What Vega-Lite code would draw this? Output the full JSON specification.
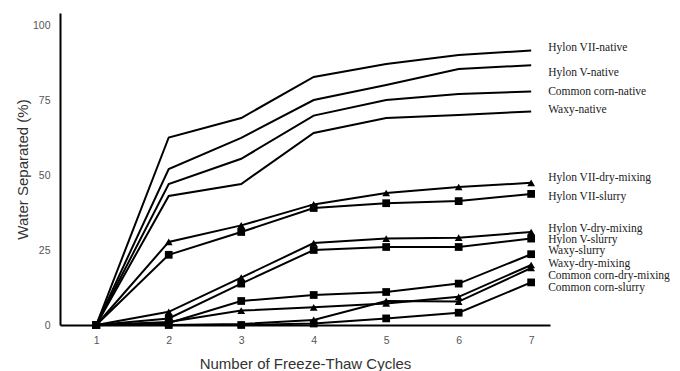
{
  "$schema": "https://vega.github.io/schema/vega-lite/v6.json",
  "width": 490,
  "height": 312,
  "autosize": "none",
  "padding": {"left": 60, "top": 13, "right": 130, "bottom": 46},
  "background": "white",
  "config": {"view": {"stroke": null}, "font": "Liberation Sans"},
  "datasets": {
    "series": [
      {"series": "Hylon VII-native", "method": "native", "cycle": 1, "value": 0},
      {"series": "Hylon VII-native", "method": "native", "cycle": 2, "value": 62.5},
      {"series": "Hylon VII-native", "method": "native", "cycle": 3, "value": 69},
      {"series": "Hylon VII-native", "method": "native", "cycle": 4, "value": 82.7},
      {"series": "Hylon VII-native", "method": "native", "cycle": 5, "value": 87},
      {"series": "Hylon VII-native", "method": "native", "cycle": 6, "value": 90},
      {"series": "Hylon VII-native", "method": "native", "cycle": 7, "value": 91.5},
      {"series": "Hylon V-native", "method": "native", "cycle": 1, "value": 0},
      {"series": "Hylon V-native", "method": "native", "cycle": 2, "value": 52},
      {"series": "Hylon V-native", "method": "native", "cycle": 3, "value": 62.4},
      {"series": "Hylon V-native", "method": "native", "cycle": 4, "value": 75},
      {"series": "Hylon V-native", "method": "native", "cycle": 5, "value": 80},
      {"series": "Hylon V-native", "method": "native", "cycle": 6, "value": 85.3},
      {"series": "Hylon V-native", "method": "native", "cycle": 7, "value": 86.6},
      {"series": "Common corn-native", "method": "native", "cycle": 1, "value": 0},
      {"series": "Common corn-native", "method": "native", "cycle": 2, "value": 47},
      {"series": "Common corn-native", "method": "native", "cycle": 3, "value": 55.4},
      {"series": "Common corn-native", "method": "native", "cycle": 4, "value": 69.8},
      {"series": "Common corn-native", "method": "native", "cycle": 5, "value": 75},
      {"series": "Common corn-native", "method": "native", "cycle": 6, "value": 77},
      {"series": "Common corn-native", "method": "native", "cycle": 7, "value": 77.8},
      {"series": "Waxy-native", "method": "native", "cycle": 1, "value": 0},
      {"series": "Waxy-native", "method": "native", "cycle": 2, "value": 43},
      {"series": "Waxy-native", "method": "native", "cycle": 3, "value": 47},
      {"series": "Waxy-native", "method": "native", "cycle": 4, "value": 64},
      {"series": "Waxy-native", "method": "native", "cycle": 5, "value": 69},
      {"series": "Waxy-native", "method": "native", "cycle": 6, "value": 70},
      {"series": "Waxy-native", "method": "native", "cycle": 7, "value": 71.2},
      {"series": "Hylon VII-dry-mixing", "method": "dry-mixing", "cycle": 1, "value": 0},
      {"series": "Hylon VII-dry-mixing", "method": "dry-mixing", "cycle": 2, "value": 27.7},
      {"series": "Hylon VII-dry-mixing", "method": "dry-mixing", "cycle": 3, "value": 33.2},
      {"series": "Hylon VII-dry-mixing", "method": "dry-mixing", "cycle": 4, "value": 40.2},
      {"series": "Hylon VII-dry-mixing", "method": "dry-mixing", "cycle": 5, "value": 44},
      {"series": "Hylon VII-dry-mixing", "method": "dry-mixing", "cycle": 6, "value": 46},
      {"series": "Hylon VII-dry-mixing", "method": "dry-mixing", "cycle": 7, "value": 47.4},
      {"series": "Hylon VII-slurry", "method": "slurry", "cycle": 1, "value": 0},
      {"series": "Hylon VII-slurry", "method": "slurry", "cycle": 2, "value": 23.4},
      {"series": "Hylon VII-slurry", "method": "slurry", "cycle": 3, "value": 31},
      {"series": "Hylon VII-slurry", "method": "slurry", "cycle": 4, "value": 39},
      {"series": "Hylon VII-slurry", "method": "slurry", "cycle": 5, "value": 40.6},
      {"series": "Hylon VII-slurry", "method": "slurry", "cycle": 6, "value": 41.3},
      {"series": "Hylon VII-slurry", "method": "slurry", "cycle": 7, "value": 43.7},
      {"series": "Hylon V-dry-mixing", "method": "dry-mixing", "cycle": 1, "value": 0},
      {"series": "Hylon V-dry-mixing", "method": "dry-mixing", "cycle": 2, "value": 4.4},
      {"series": "Hylon V-dry-mixing", "method": "dry-mixing", "cycle": 3, "value": 15.8},
      {"series": "Hylon V-dry-mixing", "method": "dry-mixing", "cycle": 4, "value": 27.3},
      {"series": "Hylon V-dry-mixing", "method": "dry-mixing", "cycle": 5, "value": 28.8},
      {"series": "Hylon V-dry-mixing", "method": "dry-mixing", "cycle": 6, "value": 29.1},
      {"series": "Hylon V-dry-mixing", "method": "dry-mixing", "cycle": 7, "value": 31},
      {"series": "Hylon V-slurry", "method": "slurry", "cycle": 1, "value": 0},
      {"series": "Hylon V-slurry", "method": "slurry", "cycle": 2, "value": 2.2},
      {"series": "Hylon V-slurry", "method": "slurry", "cycle": 3, "value": 13.8},
      {"series": "Hylon V-slurry", "method": "slurry", "cycle": 4, "value": 25},
      {"series": "Hylon V-slurry", "method": "slurry", "cycle": 5, "value": 26},
      {"series": "Hylon V-slurry", "method": "slurry", "cycle": 6, "value": 26},
      {"series": "Hylon V-slurry", "method": "slurry", "cycle": 7, "value": 28.8},
      {"series": "Waxy-slurry", "method": "slurry", "cycle": 1, "value": 0},
      {"series": "Waxy-slurry", "method": "slurry", "cycle": 2, "value": 0.7},
      {"series": "Waxy-slurry", "method": "slurry", "cycle": 3, "value": 8},
      {"series": "Waxy-slurry", "method": "slurry", "cycle": 4, "value": 10},
      {"series": "Waxy-slurry", "method": "slurry", "cycle": 5, "value": 11},
      {"series": "Waxy-slurry", "method": "slurry", "cycle": 6, "value": 13.8},
      {"series": "Waxy-slurry", "method": "slurry", "cycle": 7, "value": 23.6},
      {"series": "Waxy-dry-mixing", "method": "dry-mixing", "cycle": 1, "value": 0},
      {"series": "Waxy-dry-mixing", "method": "dry-mixing", "cycle": 2, "value": 1},
      {"series": "Waxy-dry-mixing", "method": "dry-mixing", "cycle": 3, "value": 4.8},
      {"series": "Waxy-dry-mixing", "method": "dry-mixing", "cycle": 4, "value": 5.9},
      {"series": "Waxy-dry-mixing", "method": "dry-mixing", "cycle": 5, "value": 7.2},
      {"series": "Waxy-dry-mixing", "method": "dry-mixing", "cycle": 6, "value": 9.4},
      {"series": "Waxy-dry-mixing", "method": "dry-mixing", "cycle": 7, "value": 20},
      {"series": "Common corn-dry-mixing", "method": "dry-mixing", "cycle": 1, "value": 0},
      {"series": "Common corn-dry-mixing", "method": "dry-mixing", "cycle": 2, "value": 0},
      {"series": "Common corn-dry-mixing", "method": "dry-mixing", "cycle": 3, "value": 0.3},
      {"series": "Common corn-dry-mixing", "method": "dry-mixing", "cycle": 4, "value": 1.7},
      {"series": "Common corn-dry-mixing", "method": "dry-mixing", "cycle": 5, "value": 8},
      {"series": "Common corn-dry-mixing", "method": "dry-mixing", "cycle": 6, "value": 7.8},
      {"series": "Common corn-dry-mixing", "method": "dry-mixing", "cycle": 7, "value": 19},
      {"series": "Common corn-slurry", "method": "slurry", "cycle": 1, "value": 0},
      {"series": "Common corn-slurry", "method": "slurry", "cycle": 2, "value": 0},
      {"series": "Common corn-slurry", "method": "slurry", "cycle": 3, "value": 0},
      {"series": "Common corn-slurry", "method": "slurry", "cycle": 4, "value": 0.5},
      {"series": "Common corn-slurry", "method": "slurry", "cycle": 5, "value": 2.2},
      {"series": "Common corn-slurry", "method": "slurry", "cycle": 6, "value": 4.1},
      {"series": "Common corn-slurry", "method": "slurry", "cycle": 7, "value": 14.2}
    ],
    "labels": [
      {"series": "Hylon VII-native", "cycle": 7, "labelValue": 92.5},
      {"series": "Hylon V-native", "cycle": 7, "labelValue": 84.1},
      {"series": "Common corn-native", "cycle": 7, "labelValue": 77.8},
      {"series": "Waxy-native", "cycle": 7, "labelValue": 71.8},
      {"series": "Hylon VII-dry-mixing", "cycle": 7, "labelValue": 49.1},
      {"series": "Hylon VII-slurry", "cycle": 7, "labelValue": 42.6},
      {"series": "Hylon V-dry-mixing", "cycle": 7, "labelValue": 32.1},
      {"series": "Hylon V-slurry", "cycle": 7, "labelValue": 28.5},
      {"series": "Waxy-slurry", "cycle": 7, "labelValue": 24.6},
      {"series": "Waxy-dry-mixing", "cycle": 7, "labelValue": 20.3},
      {"series": "Common corn-dry-mixing", "cycle": 7, "labelValue": 16.3},
      {"series": "Common corn-slurry", "cycle": 7, "labelValue": 12.4}
    ]
  },
  "encoding": {
    "x": {
      "field": "cycle", "type": "quantitative",
      "scale": {"domain": [0.5, 7.26], "nice": false, "zero": false},
      "axis": {
        "values": [1, 2, 3, 4, 5, 6, 7], "format": "d", "grid": false,
        "ticks": false, "tickSize": 0, "labelPadding": 10,
        "domainColor": "black", "domainWidth": 2,
        "labelFont": "Liberation Sans", "labelFontSize": 10.5, "labelColor": "#555555",
        "title": "Number of Freeze-Thaw Cycles", "titleFont": "Liberation Sans",
        "titleFontSize": 15, "titleFontWeight": "normal", "titleColor": "#333333", "titlePadding": 11
      }
    },
    "y": {
      "field": "value", "type": "quantitative",
      "scale": {"domain": [0, 104], "nice": false},
      "axis": {
        "values": [0, 25, 50, 75, 100], "grid": false,
        "ticks": false, "tickSize": 0, "labelPadding": 10,
        "domainColor": "black", "domainWidth": 2,
        "labelFont": "Liberation Sans", "labelFontSize": 10.5, "labelColor": "#555555",
        "title": "Water Separated (%)", "titleFont": "Liberation Sans",
        "titleFontSize": 15, "titleFontWeight": "normal", "titleColor": "#333333", "titlePadding": 2
      }
    }
  },
  "layer": [
    {
      "data": {"name": "series"},
      "mark": {"type": "line", "color": "black", "strokeWidth": 2},
      "encoding": {"detail": {"field": "series"}}
    },
    {
      "data": {"name": "series"},
      "transform": [{"filter": "datum.method != 'native'"}],
      "mark": {"type": "point", "filled": true, "color": "black", "opacity": 1, "size": 60},
      "encoding": {
        "shape": {
          "field": "method", "type": "nominal",
          "scale": {"domain": ["slurry", "dry-mixing"], "range": ["square", "triangle-up"]},
          "legend": null
        }
      }
    },
    {
      "data": {"name": "labels"},
      "mark": {"type": "text", "align": "left", "baseline": "middle", "dx": 17, "font": "Liberation Serif", "fontSize": 11.5, "color": "#222222"},
      "encoding": {
        "y": {"field": "labelValue", "type": "quantitative"},
        "text": {"field": "series"}
      }
    }
  ]
}
